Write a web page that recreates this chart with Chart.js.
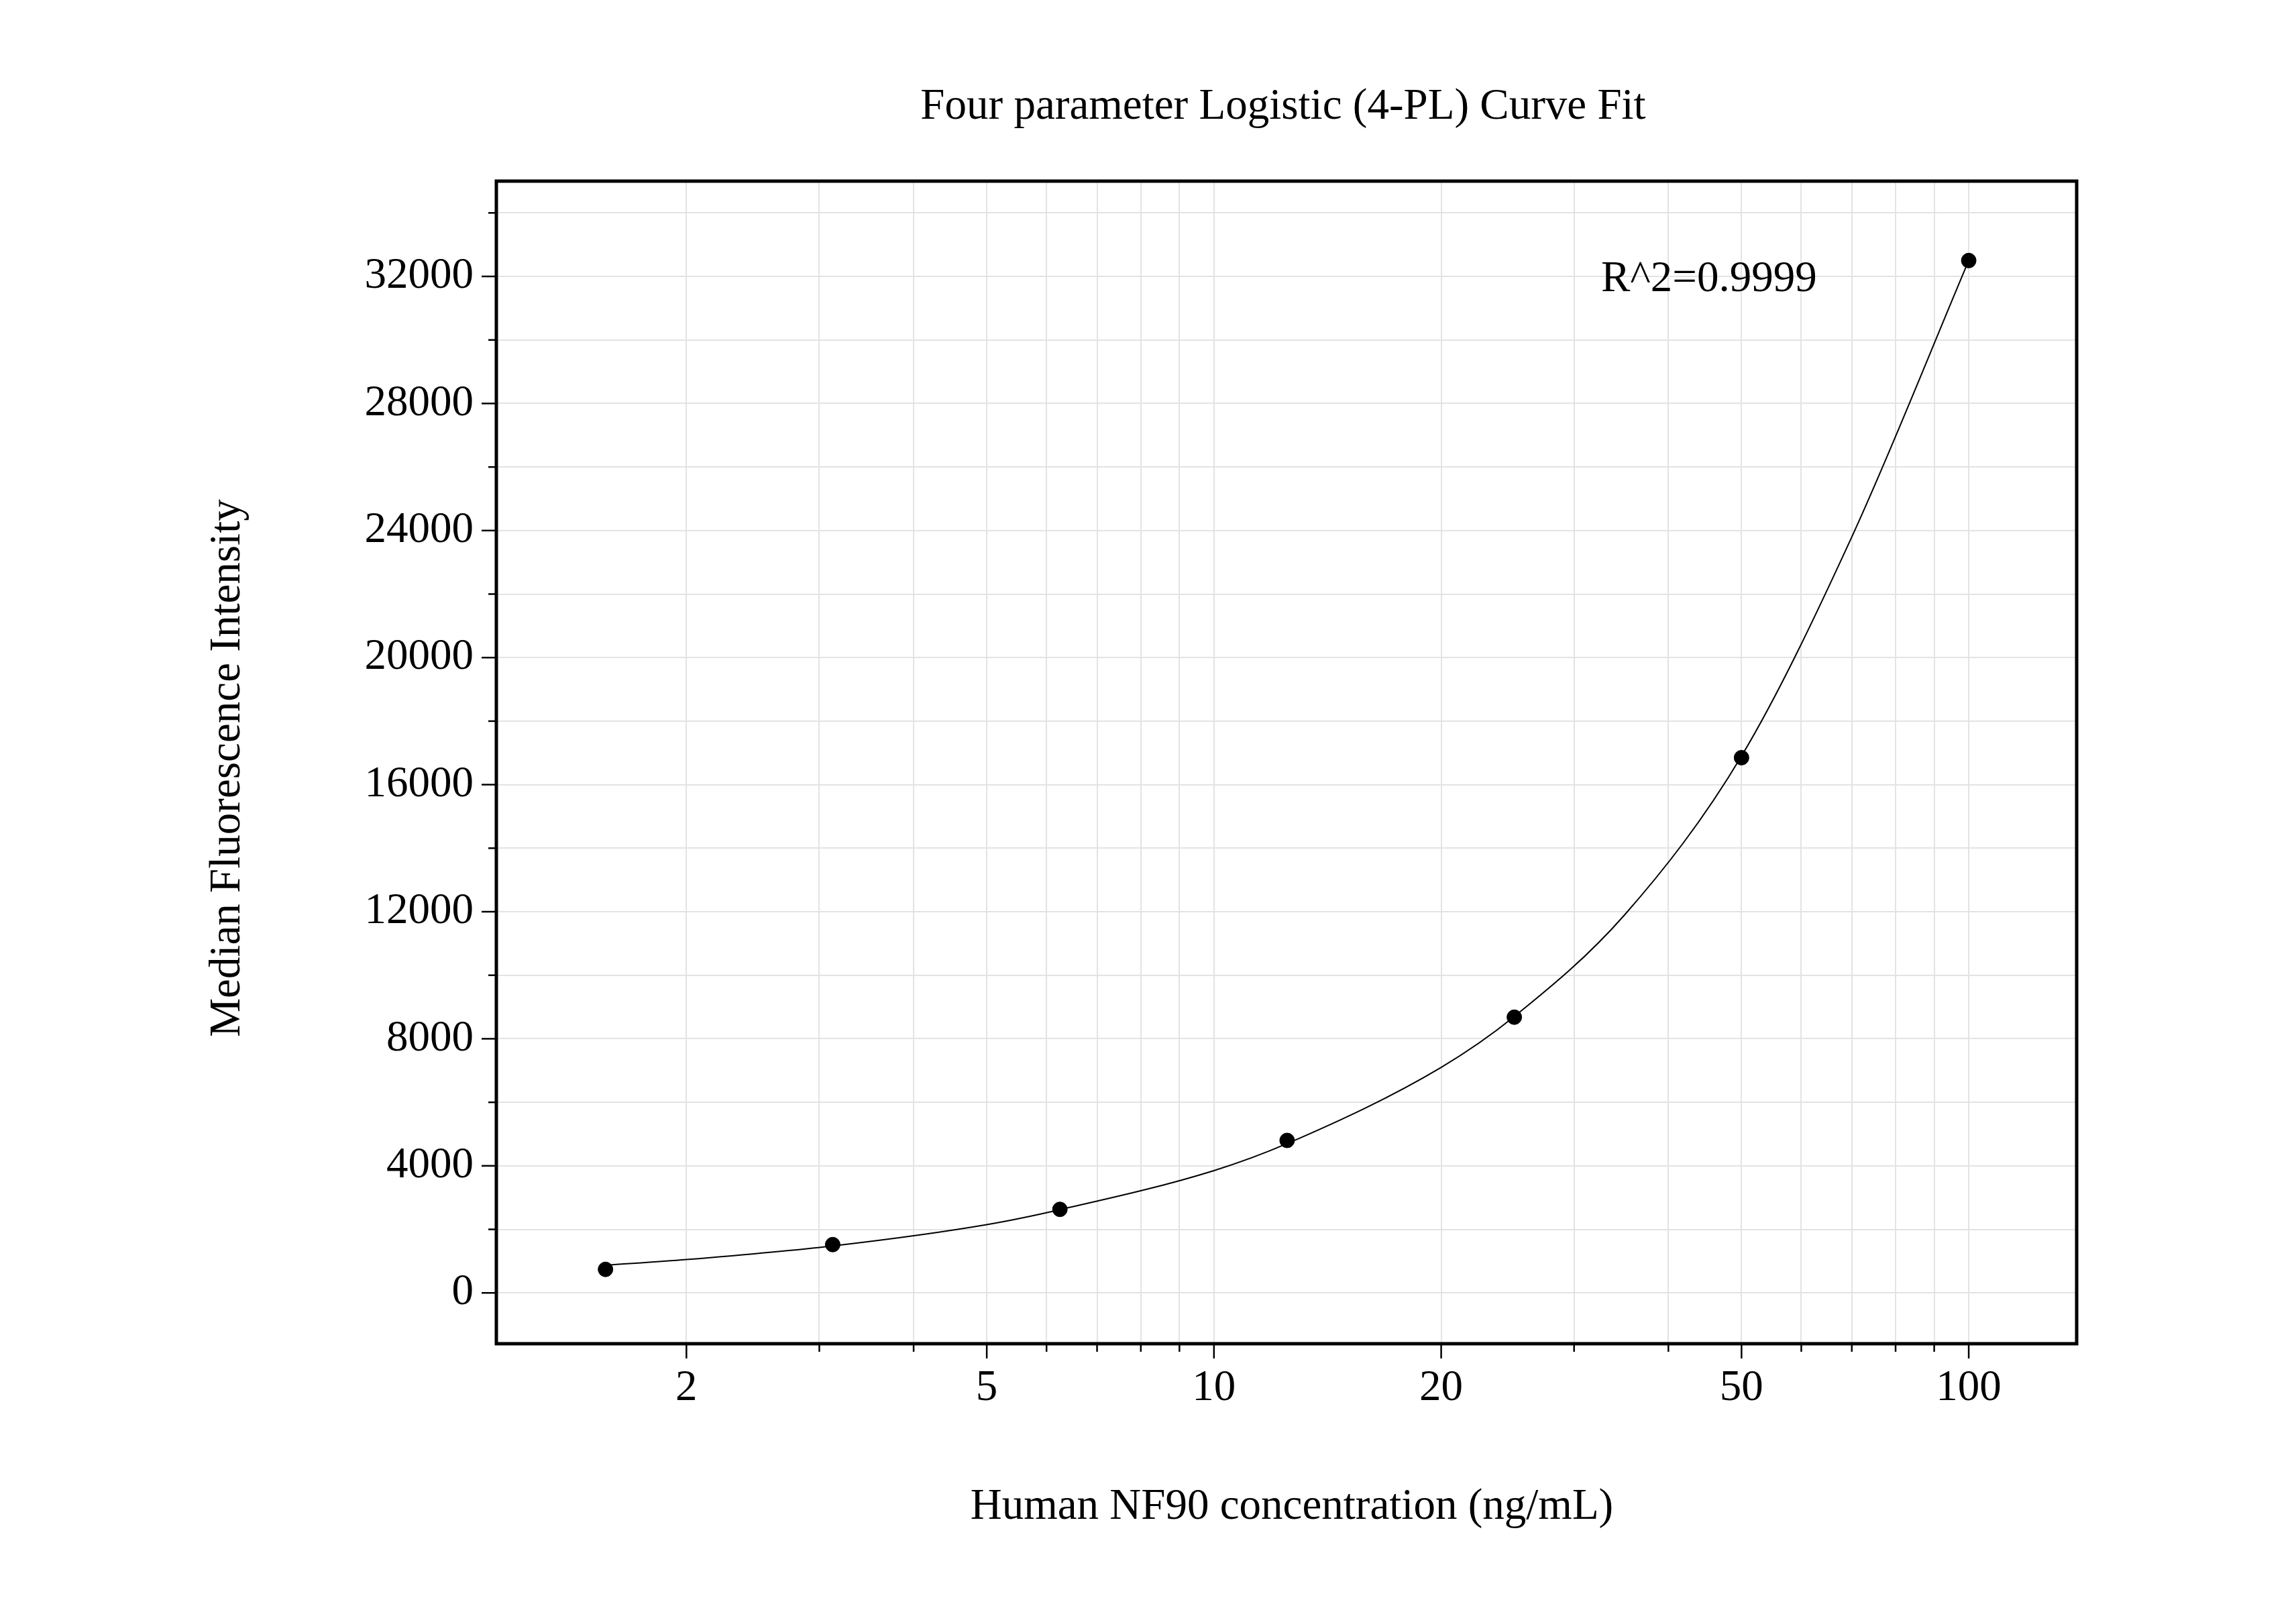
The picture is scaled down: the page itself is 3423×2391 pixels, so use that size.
<!DOCTYPE html>
<html>
<head>
<meta charset="utf-8">
<script src="https://cdn.jsdelivr.net/npm/chart.js@4.4.0/dist/chart.umd.min.js"></script>
<style>
  html, body { margin: 0; padding: 0; background: #fff; }
  #box { width: 3423px; height: 2391px; }
</style>
</head>
<body>
<div id="box"><canvas id="myChart"></canvas></div>
<script>
// Datos
const concentraciones = [1.5625, 3.125, 6.25, 12.5, 25, 50, 100]
const intensidades = [740, 1520, 2630, 4800, 8680, 16850, 32500]
// Curva ajustada
const curvaX = [1.5625, 2, 3.125, 5, 6.25, 10, 12.5, 20, 25, 35, 50, 70, 100]
const curvaY = [870, 1050, 1480, 2150, 2620, 3850, 4700, 7100, 8700, 11900, 16900, 23800, 32500]
const ticksX = [2, 3, 4, 5, 6, 7, 8, 9, 10, 20, 30, 40, 50, 60, 70, 80, 90, 100]
const etiquetasX = [2, 5, 10, 20, 50, 100]
const ticksY = [0, 2000, 4000, 6000, 8000, 10000, 12000, 14000, 16000, 18000, 20000, 22000, 24000, 26000, 28000, 30000, 32000, 34000]

const fuente = '"Liberation Serif", "Times New Roman", serif'
const ctx = document.getElementById('myChart')

// Dibuja marco, ticks y textos
const decoracion = {
    id: 'decoracion',
    afterDraw(chart) {
        const c = chart.ctx
        const a = chart.chartArea
        const sx = chart.scales.x, sy = chart.scales.y
        c.save()
        c.strokeStyle = '#000'
        c.lineWidth = 2.5
        ticksX.forEach(v => {
            const px = sx.getPixelForValue(v)
            const len = etiquetasX.includes(v) ? 22 : 12
            c.beginPath(); c.moveTo(px, a.bottom); c.lineTo(px, a.bottom + len); c.stroke()
        })
        ticksY.forEach(v => {
            const py = sy.getPixelForValue(v)
            const len = v % 4000 === 0 ? 22 : 12
            c.beginPath(); c.moveTo(a.left, py); c.lineTo(a.left - len, py); c.stroke()
        })
        c.lineWidth = 5
        c.strokeRect(a.left, a.top, a.right - a.left, a.bottom - a.top)
        c.fillStyle = '#000'
        c.textAlign = 'center'
        c.textBaseline = 'middle'
        c.font = '65px ' + fuente
        c.fillText('Four parameter Logistic (4-PL) Curve Fit', 1913, 160)
        c.fillText('Human NF90 concentration (ng/mL)', 1926, 2247)
        c.save()
        c.translate(340, 1145)
        c.rotate(-Math.PI / 2)
        c.fillText('Median Fluorescence Intensity', 0, 0)
        c.restore()
        c.textAlign = 'left'
        c.fillText('R^2=0.9999', 2387, 417)
        c.restore()
    }
}

new Chart(ctx, {
    type: 'scatter',
    data: {
        datasets: [{
            type: 'line',
            data: curvaX.map((x, i) => ({ x, y: curvaY[i] })),
            borderColor: '#000',
            borderWidth: 2,
            pointRadius: 0,
            cubicInterpolationMode: 'monotone',
            fill: false
        }, {
            data: concentraciones.map((x, i) => ({ x, y: intensidades[i] })),
            backgroundColor: '#000',
            borderColor: '#000',
            pointRadius: 11
        }]
    },
    options: {
        responsive: true,
        maintainAspectRatio: false,
        animation: false,
        devicePixelRatio: 1,
        layout: { padding: { top: 270, right: 327, left: 0, bottom: 0 } },
        plugins: { legend: { display: false }, tooltip: { enabled: false } },
        scales: {
            x: {
                type: 'logarithmic',
                min: 1.12,
                max: 139,
                afterBuildTicks: s => { s.ticks = ticksX.map(value => ({ value })) },
                afterFit: s => { s.height = 388 },
                grid: { color: '#e3e3e3', lineWidth: 2, drawTicks: false },
                border: { display: false },
                ticks: {
                    autoSkip: false,
                    maxRotation: 0,
                    padding: 28,
                    color: '#000',
                    font: { family: fuente, size: 65 },
                    callback: v => etiquetasX.includes(v) ? String(v) : ''
                }
            },
            y: {
                min: -1600,
                max: 35000,
                afterBuildTicks: s => { s.ticks = ticksY.map(value => ({ value })) },
                afterFit: s => { s.width = 740 },
                grid: { color: '#e3e3e3', lineWidth: 2, drawTicks: false },
                border: { display: false },
                ticks: {
                    autoSkip: false,
                    padding: 34,
                    color: '#000',
                    font: { family: fuente, size: 65 },
                    callback: v => v % 4000 === 0 ? String(v) : ''
                }
            }
        }
    },
    plugins: [decoracion]
})
</script>
</body>
</html>
